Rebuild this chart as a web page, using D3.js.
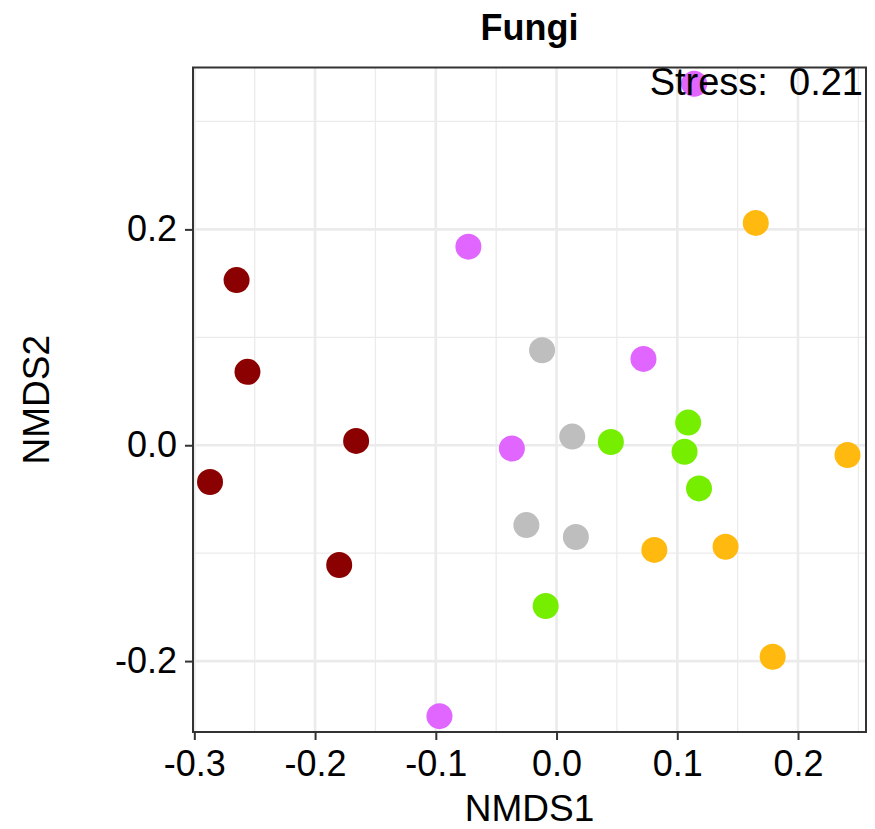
<!DOCTYPE html>
<html>
<head>
<meta charset="utf-8">
<script src="https://cdn.jsdelivr.net/npm/d3@7"></script>
<style>
  body { margin: 0; background: #fff; }
  text { font-family: "Liberation Sans", Arial, sans-serif; }
</style>
</head>
<body>
<div id="chart"></div>
<script>
// NMDS scores, one entry per sample
const groups = ['G1', 'G1', 'G1', 'G1', 'G1',
                'G2', 'G2', 'G2', 'G2', 'G2',
                'G3', 'G3', 'G3', 'G3',
                'G4', 'G4', 'G4', 'G4', 'G4',
                'G5', 'G5', 'G5', 'G5', 'G5'];
const nmds1 = [-0.265, -0.256, -0.166, -0.287, -0.180,
               0.114, -0.073, 0.072, -0.037, -0.097,
               -0.012, 0.013, -0.025, 0.016,
               0.045, 0.109, 0.106, 0.118, -0.009,
               0.165, 0.241, 0.081, 0.140, 0.179];
const nmds2 = [0.153, 0.068, 0.004, -0.034, -0.111,
               0.335, 0.184, 0.080, -0.003, -0.251,
               0.088, 0.008, -0.074, -0.085,
               0.003, 0.021, -0.006, -0.040, -0.149,
               0.206, -0.009, -0.097, -0.094, -0.196];
const groupNames = ['G1', 'G2', 'G3', 'G4', 'G5'];
const groupColors = ['#8B0000', '#E066FF', '#BEBEBE', '#76EE00', '#FFB90F'];

const xTicks = [-0.3, -0.2, -0.1, 0.0, 0.1, 0.2];
const xMinor = [-0.25, -0.15, -0.05, 0.05, 0.15, 0.25];
const yTicks = [-0.2, 0.0, 0.2];
const yMinor = [-0.1, 0.1, 0.3];
const stress = 0.21;

const width = 875, height = 829;
const margin = { top: 67.5, right: 9, bottom: 97, left: 193 };
const innerW = width - margin.left - margin.right;
const innerH = height - margin.top - margin.bottom;

const svg = d3.select('#chart').append('svg')
    .attr('width', width)
    .attr('height', height);

const x = d3.scaleLinear().domain([-0.3011, 0.2563]).range([0, innerW]);
const y = d3.scaleLinear().domain([-0.2657, 0.350]).range([innerH, 0]);
const color = d3.scaleOrdinal().domain(groupNames).range(groupColors);

const g = svg.append('g').attr('transform', `translate(${margin.left},${margin.top})`);

// grid
g.selectAll('.xminor').data(xMinor).enter().append('line')
    .attr('x1', d => x(d)).attr('x2', d => x(d))
    .attr('y1', 0).attr('y2', innerH)
    .attr('stroke', '#EBEBEB').attr('stroke-width', 1.3);
g.selectAll('.yminor').data(yMinor).enter().append('line')
    .attr('x1', 0).attr('x2', innerW)
    .attr('y1', d => y(d)).attr('y2', d => y(d))
    .attr('stroke', '#EBEBEB').attr('stroke-width', 1.3);
g.selectAll('.xmajor').data(xTicks).enter().append('line')
    .attr('x1', d => x(d)).attr('x2', d => x(d))
    .attr('y1', 0).attr('y2', innerH)
    .attr('stroke', '#EBEBEB').attr('stroke-width', 2.6);
g.selectAll('.ymajor').data(yTicks).enter().append('line')
    .attr('x1', 0).attr('x2', innerW)
    .attr('y1', d => y(d)).attr('y2', d => y(d))
    .attr('stroke', '#EBEBEB').attr('stroke-width', 2.6);

// points
const pts = nmds1.map((v, i) => ({ x: v, y: nmds2[i], group: groups[i] }));
g.selectAll('circle').data(pts).enter().append('circle')
    .attr('cx', d => x(d.x))
    .attr('cy', d => y(d.y))
    .attr('r', 13)
    .attr('fill', d => color(d.group));

// stress annotation
g.append('text')
    .attr('x', innerW - 3)
    .attr('y', 95 - margin.top)
    .attr('text-anchor', 'end')
    .attr('xml:space', 'preserve')
    .style('font-size', '38px')
    .style('fill', '#000')
    .text('Stress:  ' + stress.toFixed(2));

// panel border
g.append('rect')
    .attr('width', innerW).attr('height', innerH)
    .attr('fill', 'none').attr('stroke', '#333333').attr('stroke-width', 2);

// axes
const xAxis = g.append('g').attr('transform', `translate(0,${innerH})`)
    .call(d3.axisBottom(x).tickValues(xTicks).tickSize(8).tickPadding(10));
const yAxis = g.append('g')
    .call(d3.axisLeft(y).tickValues(yTicks).tickSize(8).tickPadding(8));
[xAxis, yAxis].forEach(a => {
    a.select('.domain').remove();
    a.selectAll('line').attr('stroke', '#333333').attr('stroke-width', 2);
    a.selectAll('text')
        .text(d => d3.format('.1f')(d).replace('−', '-'))
        .style('font-size', '36px').style('fill', '#000')
        .style('font-family', '"Liberation Sans", Arial, sans-serif');
});

// titles
svg.append('text')
    .attr('x', margin.left + innerW / 2).attr('y', 40)
    .attr('text-anchor', 'middle')
    .style('font-size', '36px').style('font-weight', 'bold')
    .text('Fungi');
svg.append('text')
    .attr('x', margin.left + innerW / 2).attr('y', 821)
    .attr('text-anchor', 'middle')
    .style('font-size', '37px')
    .text('NMDS1');
svg.append('text')
    .attr('transform', `translate(49,${margin.top + innerH / 2}) rotate(-90)`)
    .attr('text-anchor', 'middle')
    .style('font-size', '37px')
    .text('NMDS2');
</script>
</body>
</html>
